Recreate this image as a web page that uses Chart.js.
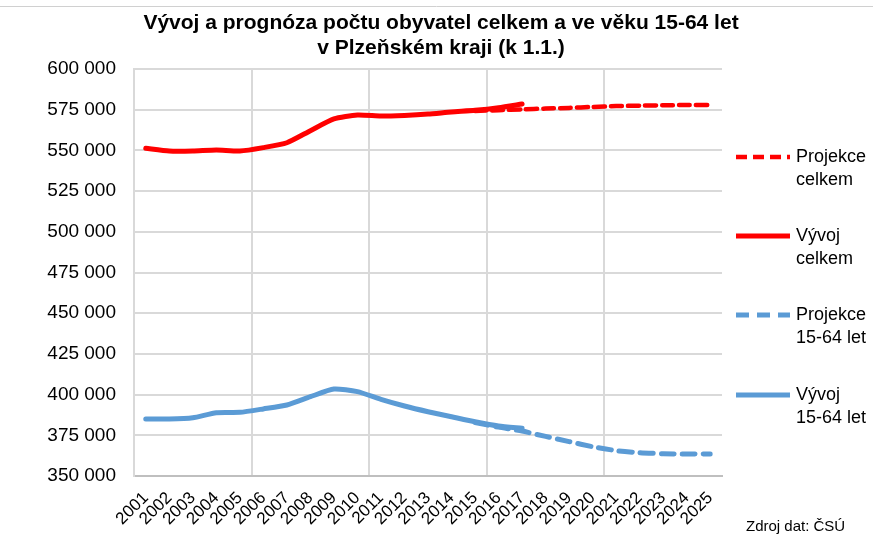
<!DOCTYPE html>
<html>
<head>
<meta charset="utf-8">
<script src="https://cdn.jsdelivr.net/npm/chart.js@4/dist/chart.umd.min.js"></script>
<style>
  html, body { margin: 0; padding: 0; background: #fff; }
  #wrap { width: 873px; height: 536px; position: relative; }
</style>
</head>
<body>
<div id="wrap"><canvas id="chart" width="873" height="536"></canvas></div>
<script>
const years = ['2001','2002','2003','2004','2005','2006','2007','2008','2009','2010','2011','2012','2013',
               '2014','2015','2016','2017','2018','2019','2020','2021','2022','2023','2024','2025'];

// skutecnost (2001-2017), projekce (2015-2025)
const vyvojCelkem = [551300, 549600, 549600, 550200, 549600, 551700, 554700, 562100, 569300, 571700,
                     571100, 571500, 572300, 573600, 574600, 576200, 578500,
                     null, null, null, null, null, null, null, null];
const projekceCelkem = [null, null, null, null, null, null, null, null, null, null, null, null, null, null,
                        574200, 574700, 575200, 575700, 576100, 576700, 577200, 577500, 577700, 577900, 577900];
const vyvoj1564 = [385000, 385000, 385800, 388900, 389100, 391200, 393600, 398700, 403400, 401800,
                   397100, 393000, 389500, 386400, 383300, 380700, 379300,
                   null, null, null, null, null, null, null, null];
const projekce1564 = [null, null, null, null, null, null, null, null, null, null, null, null, null, null,
                      382800, 380000, 377600, 374300, 371100, 368000, 365600, 364300, 363700, 363500, 363500];

const yMin = 350000, yMax = 600000, yStep = 25000;
const titleLines = ['Vývoj a prognóza počtu obyvatel celkem a ve věku 15-64 let', 'v Plzeňském kraji (k 1.1.)'];
const sourceText = 'Zdroj dat: ČSÚ';

const RED = '#ff0000';
const BLUE = '#5b9bd5';
const FONT = '"Liberation Sans", Arial, sans-serif';

const extras = {
  id: 'extras',
  afterDraw(chart) {
    const ctx = chart.ctx;
    ctx.save();
    // top border
    ctx.strokeStyle = '#d0d0d0';
    ctx.lineWidth = 1;
    ctx.beginPath();
    ctx.moveTo(0, 6.5);
    ctx.lineTo(873, 6.5);
    ctx.stroke();
    // title
    ctx.fillStyle = '#000';
    ctx.font = 'bold 21px ' + FONT;
    ctx.textAlign = 'center';
    ctx.textBaseline = 'middle';
    ctx.fillText(titleLines[0], 441, 23);
    ctx.fillText(titleLines[1], 441, 48);
    // legend
    ctx.font = '18px ' + FONT;
    ctx.textAlign = 'left';
    const rows = [157, 236, 315, 395];
    chart.data.datasets.forEach((ds, i) => {
      const y = rows[i];
      ctx.strokeStyle = ds.borderColor;
      ctx.lineWidth = ds.borderWidth;
      ctx.setLineDash(ds.borderDash || []);
      ctx.beginPath();
      ctx.moveTo(736, y);
      ctx.lineTo(790, y);
      ctx.stroke();
      ctx.setLineDash([]);
      ctx.fillStyle = '#000';
      ds.label.forEach((t, j) => ctx.fillText(t, 796, y + j * 23));
    });
    // source
    ctx.font = '15px ' + FONT;
    ctx.fillText(sourceText, 746, 527);
    ctx.restore();
  }
};

new Chart(document.getElementById('chart'), {
  type: 'line',
  data: {
    labels: years,
    datasets: [
      { label: ['Projekce', 'celkem'], data: projekceCelkem, borderColor: RED, borderWidth: 4.5, borderDash: [11, 6] },
      { label: ['Vývoj', 'celkem'], data: vyvojCelkem, borderColor: RED, borderWidth: 5 },
      { label: ['Projekce', '15-64 let'], data: projekce1564, borderColor: BLUE, borderWidth: 5, borderDash: [13, 8] },
      { label: ['Vývoj', '15-64 let'], data: vyvoj1564, borderColor: BLUE, borderWidth: 5 }
    ]
  },
  options: {
    responsive: false,
    animation: false,
    layout: { padding: { top: 69, right: 151, left: 0, bottom: 0 } },
    elements: {
      point: { radius: 0 },
      line: { tension: 0.2, borderCapStyle: 'round', borderJoinStyle: 'round', fill: false }
    },
    plugins: {
      legend: { display: false },
      title: { display: false },
      tooltip: { enabled: false }
    },
    scales: {
      x: {
        offset: true,
        grid: {
          offset: true,
          color: c => (c.index % 5 === 0 ? '#d9d9d9' : 'rgba(0,0,0,0)'),
          lineWidth: 2,
          tickLength: 4,
          tickColor: 'rgba(0,0,0,0)'
        },
        border: { color: '#bfbfbf', width: 2 },
        ticks: {
          autoSkip: false,
          minRotation: 45,
          maxRotation: 45,
          padding: 8,
          color: '#000',
          font: { family: FONT, size: 17 }
        },
        afterFit: s => { s.height = 60; }
      },
      y: {
        min: yMin,
        max: yMax,
        grid: { color: '#d9d9d9', lineWidth: 2, tickLength: 8, tickColor: 'rgba(0,0,0,0)' },
        border: { color: '#d9d9d9', width: 2 },
        ticks: {
          stepSize: yStep,
          padding: 10,
          color: '#000',
          font: { family: FONT, size: 19 },
          callback: v => String(v).replace(/\B(?=(\d{3})+(?!\d))/g, ' ')
        },
        afterFit: s => { s.width = 134; }
      }
    }
  },
  plugins: [extras]
});
</script>
</body>
</html>
